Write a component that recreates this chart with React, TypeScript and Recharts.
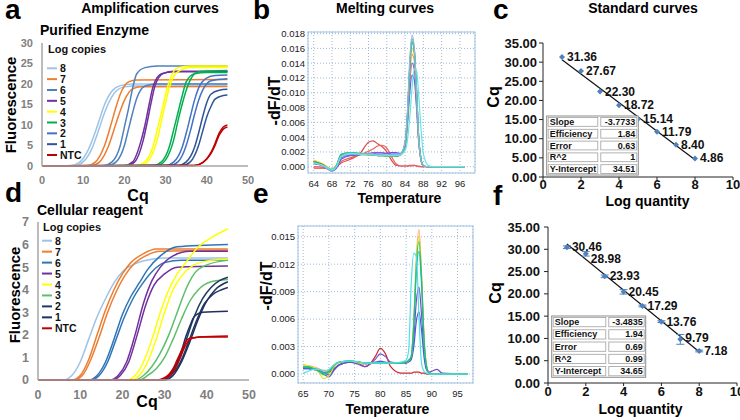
import React from "react";
import {
  ComposedChart,
  CartesianGrid,
  ErrorBar,
  LabelList,
  Line,
  LineChart,
  Scatter,
  XAxis,
  YAxis,
} from "recharts";

const FONT = "Arial, 'Liberation Sans', Helvetica, sans-serif";

// ---------- a / d : amplification curves, [cycle, fluorescence] ----------
const cycleTicks = [0, 10, 20, 30, 40, 50];
const enzymeTicks = [0, 5, 10, 15, 20, 25, 30];
const cellTicks = [0, 1, 2, 3, 4, 5, 6, 7];
const legendLabels = ["8", "7", "6", "5", "4", "3", "2", "1", "NTC"];

const enzymeColors = ["#9dc3e6", "#ed7d31", "#4f81bd", "#7030a0", "#ffff00", "#00b050", "#4472c4", "#2f5597", "#c00000"];
const cellColors = ["#9dc3e6", "#ed7d31", "#2e75b6", "#7030a0", "#ffff00", "#5cbf6a", "#203864", "#1f2f5f", "#c00000"];

type Pt = [number, number];

const enz8a: Pt[] = [[0, 0], [7, 0.1], [9, 0.8], [11, 3.5], [13, 8.5], [14, 11.5], [15, 14.5], [17, 18.3], [19, 19.6], [22, 20], [45, 20]];
const enz8b: Pt[] = [[0, 0], [8, 0.1], [10, 1], [12, 4], [14, 9.5], [15, 12.5], [16, 15], [18, 18.3], [20, 19.3], [23, 19.5], [45, 19.5]];
const enz7a: Pt[] = [[0, 0], [11, 0.1], [13, 1], [15, 4.5], [17, 11], [18, 14.5], [19, 17.5], [21, 20.5], [23, 21], [45, 21.1]];
const enz7b: Pt[] = [[0, 0], [12, 0.1], [14, 1], [16, 4.5], [18, 10.5], [19, 13.5], [20, 16], [22, 18.8], [24, 19.3], [45, 19.4]];
const enz6a: Pt[] = [[0, 0], [15, 0.1], [17, 1], [19, 5], [20, 9.5], [21, 14], [22, 19], [23, 22.5], [25, 24], [28, 24.4], [45, 24.4]];
const enz6b: Pt[] = [[0, 0], [16, 0.1], [18, 1], [20, 5], [21, 9], [22, 13], [23, 16.5], [25, 19.5], [28, 20], [45, 20]];
const enz5a: Pt[] = [[0, 0], [20, 0.1], [22, 1], [24, 6], [25, 10], [26, 15], [27, 19.5], [29, 22.5], [32, 23], [45, 23]];
const enz5b: Pt[] = [[0, 0], [20.5, 0.1], [22.5, 1], [24.5, 6], [25.5, 10.5], [26.5, 15.5], [27.5, 19.8], [29.5, 22.6], [32, 23.1], [45, 23.1]];
const enz4a: Pt[] = [[0, 0], [23, 0.1], [25, 1], [27, 5], [28, 9], [29, 13], [30, 17.5], [31, 21], [33, 24], [36, 24.4], [45, 24.4]];
const enz4b: Pt[] = [[0, 0], [24, 0.1], [26, 1.5], [28, 6.5], [29, 11], [30, 15.5], [31, 19.5], [33, 23], [36, 24], [45, 24]];
const enz3a: Pt[] = [[0, 0], [27, 0.1], [29, 1], [31, 5], [32, 9], [33, 13], [34, 17], [35, 20.5], [37, 22.5], [40, 22.8], [45, 22.8]];
const enz3b: Pt[] = [[0, 0], [28, 0.1], [30, 1.5], [32, 6.5], [33, 11], [34, 15], [35, 18.5], [36, 21], [38, 23], [45, 23.3]];
const enz2a: Pt[] = [[0, 0], [30, 0.1], [32, 1], [34, 4.5], [35, 8], [36, 12], [37, 16], [38, 19], [40, 21.5], [42, 22.1], [45, 22.2]];
const enz2b: Pt[] = [[0, 0], [31, 0.1], [33, 1], [35, 5], [36, 8.5], [37, 12.5], [38, 16], [39, 18.5], [41, 20.8], [45, 21.3]];
const enz1a: Pt[] = [[0, 0], [33, 0.1], [35, 1], [37, 4.5], [38, 8], [39, 12], [40, 15.5], [41, 17.5], [43, 18.5], [45, 18.7]];
const enz1b: Pt[] = [[0, 0], [34, 0.1], [36, 1], [38, 5], [39, 8.5], [40, 12], [41, 14.5], [42, 16.3], [44, 17.2], [45, 17.3]];
const enzNa: Pt[] = [[0, 0], [37, 0.1], [39, 0.8], [41, 3], [42, 5], [43, 7.5], [44, 9], [45, 9.5]];
const enzNb: Pt[] = [[0, 0], [37, 0.1], [39, 0.8], [41, 3.3], [42, 5.5], [43, 8], [44, 9.5], [45, 10]];

const cell8a: Pt[] = [[0, 0], [6, 0], [8, 0.2], [10, 0.8], [12, 1.8], [14, 2.8], [16, 3.6], [18, 4.3], [20, 4.8], [23, 5.15], [27, 5.35], [30, 5.4], [45, 5.4]];
const cell7a: Pt[] = [[0, 0], [8, 0], [10, 0.2], [12, 0.9], [14, 2], [16, 3.1], [18, 4], [20, 4.7], [22, 5.2], [25, 5.6], [28, 5.8], [45, 5.8]];
const cell7b: Pt[] = [[0, 0], [8.5, 0], [10.5, 0.2], [12.5, 0.9], [14.5, 1.9], [16.5, 3], [18.5, 3.9], [20.5, 4.6], [22.5, 5.1], [25.5, 5.5], [29, 5.7], [45, 5.75]];
const cell6a: Pt[] = [[0, 0], [12, 0], [14, 0.2], [16, 0.8], [18, 1.8], [20, 2.9], [22, 3.7], [24, 4.3], [26, 4.9], [29, 5.5], [33, 5.9], [45, 6]];
const cell6b: Pt[] = [[0, 0], [12.5, 0], [14.5, 0.2], [16.5, 0.8], [18.5, 1.8], [20.5, 2.8], [22.5, 3.6], [24.5, 4.2], [27, 4.8], [30, 5.2], [34, 5.3], [45, 5.3]];
const cell5a: Pt[] = [[0, 0], [17, 0], [19, 0.2], [21, 0.8], [23, 2], [25, 3.4], [27, 4.4], [29, 5], [32, 5.5], [36, 5.7], [45, 5.7]];
const cell5b: Pt[] = [[0, 0], [17.5, 0], [19.5, 0.2], [21.5, 0.8], [23.5, 2], [25.5, 3.3], [27.5, 4.2], [30, 4.7], [33, 5], [45, 5.05]];
const cell4a: Pt[] = [[0, 0], [21, 0], [23, 0.2], [25, 0.8], [27, 1.8], [29, 3], [31, 4], [33, 4.7], [35, 5.2], [38, 5.9], [41, 6.3], [45, 6.7]];
const cell4b: Pt[] = [[0, 0], [22, 0], [24, 0.2], [26, 0.8], [28, 1.8], [30, 3], [32, 4], [34, 4.6], [37, 5.1], [41, 5.3], [45, 5.35]];
const cell3a: Pt[] = [[0, 0], [23, 0], [25, 0.2], [27, 0.6], [29, 1.2], [31, 2], [33, 3], [35, 4], [37, 4.7], [40, 5.1], [45, 5.3]];
const cell3b: Pt[] = [[0, 0], [24, 0], [26, 0.2], [28, 0.5], [30, 1], [32, 1.8], [34, 2.7], [36, 3.5], [38, 4], [41, 4.35], [45, 4.45]];
const cell2a: Pt[] = [[0, 0], [29, 0], [31, 0.2], [33, 0.7], [35, 1.7], [37, 2.8], [39, 3.6], [41, 4.1], [43, 4.4], [45, 4.55]];
const cell2b: Pt[] = [[0, 0], [29.5, 0], [31.5, 0.2], [33.5, 0.7], [35.5, 1.6], [37.5, 2.6], [39.5, 3.4], [41.5, 3.8], [43.5, 4], [45, 4.1]];
const cell1a: Pt[] = [[0, 0], [29, 0], [31, 0.2], [33, 0.8], [34, 1.3], [35, 1.9], [36, 2.4], [37, 2.8], [39, 3], [45, 3.05]];
const cell1b: Pt[] = [[0, 0], [30, 0], [32, 0.2], [34, 0.8], [36, 1.7], [38, 2.7], [40, 3.5], [42, 4], [45, 4.35]];
const cellNa: Pt[] = [[0, 0], [28, 0], [30, 0.1], [32, 0.5], [33, 0.9], [34, 1.3], [35, 1.7], [36, 1.85], [38, 1.9], [45, 1.95]];
const cellNb: Pt[] = [[0, 0], [28.5, 0], [30.5, 0.1], [32.5, 0.5], [33.5, 0.9], [34.5, 1.35], [35.5, 1.7], [36.5, 1.85], [39, 1.9], [45, 1.9]];

// group index -> replicate curves
const enzymeCurves: [number, Pt[]][] = [
  [0, enz8a], [0, enz8b], [1, enz7a], [1, enz7b], [2, enz6a], [2, enz6b], [3, enz5a], [3, enz5b],
  [4, enz4a], [4, enz4b], [5, enz3a], [5, enz3b], [6, enz2a], [6, enz2b], [7, enz1a], [7, enz1b],
  [8, enzNa], [8, enzNb],
];
const cellCurves: [number, Pt[]][] = [
  [0, cell8a], [1, cell7a], [1, cell7b], [2, cell6a], [2, cell6b], [3, cell5a], [3, cell5b],
  [4, cell4a], [4, cell4b], [5, cell3a], [5, cell3b], [6, cell2a], [6, cell2b], [7, cell1a], [7, cell1b],
  [8, cellNa], [8, cellNb],
];

// ---------- b : melting curves, purified enzyme ----------
const tempB = [64, 66, 68, 69, 70, 72, 74, 76, 77, 78, 79, 80, 81, 82, 83, 84, 84.5, 85, 85.5, 86, 86.5, 87, 87.5, 88, 89, 90, 97];
const bRedA = [-0.0002, -0.0002, -0.0003, 0, 0.0005, 0.001, 0.0017, 0.0033, 0.0035, 0.0031, 0.0027, 0.002, 0.0009, 0.0002, 0.0001, 0.0001, 0.0001, 0.0002, 0.0002, 0.0002, 0.0001, 0.0001, 0, 0, 0, 0, 0];
const bRedB = [0, -0.0001, -0.0004, 0.0002, 0.0007, 0.0012, 0.0016, 0.0021, 0.0024, 0.0028, 0.0029, 0.0025, 0.0014, 0.0004, 0.0001, 0.0001, 0.0001, 0.0001, 0.0001, 0.0002, 0.0001, 0, 0, 0, 0, 0, 0];
const bBlue = [0.0004, 0.0001, -0.0006, -0.0002, 0.001, 0.0015, 0.0016, 0.0017, 0.0018, 0.0017, 0.0017, 0.0018, 0.0019, 0.0019, 0.0018, 0.0026, 0.0055, 0.0098, 0.0124, 0.0118, 0.008, 0.0032, 0.0008, 0.0001, 0, 0, 0];
const bPurple = [0.0006, 0.0002, -0.0004, 0, 0.0012, 0.0016, 0.0017, 0.0018, 0.0019, 0.0019, 0.0019, 0.0018, 0.0017, 0.0017, 0.0017, 0.0028, 0.006, 0.011, 0.014, 0.0132, 0.0088, 0.0034, 0.0009, 0.0001, 0, 0, 0];
const bOrange = [0.0008, 0.0003, -0.0004, 0.0002, 0.0015, 0.0018, 0.0017, 0.0016, 0.0016, 0.0015, 0.0015, 0.0015, 0.0015, 0.0015, 0.0016, 0.003, 0.0064, 0.012, 0.0152, 0.0145, 0.0095, 0.0035, 0.0009, 0.0001, 0, 0, 0];
const bYellow = [0.0009, 0.0004, -0.0003, 0.0003, 0.0016, 0.0019, 0.0018, 0.0017, 0.0017, 0.0016, 0.0016, 0.0015, 0.0015, 0.0015, 0.0016, 0.0031, 0.0066, 0.0125, 0.016, 0.0152, 0.01, 0.0036, 0.0009, 0.0001, 0, 0, 0];
const bOlive = [0.0007, 0.0003, -0.0005, 0.0001, 0.0014, 0.0018, 0.0017, 0.0016, 0.0016, 0.0015, 0.0015, 0.0014, 0.0014, 0.0014, 0.0016, 0.0032, 0.0068, 0.013, 0.0168, 0.0158, 0.0104, 0.0037, 0.001, 0.0001, 0, 0, 0];
const bGreen = [0.0007, 0.0002, -0.0005, 0.0002, 0.0016, 0.0019, 0.0018, 0.0017, 0.0016, 0.0015, 0.0015, 0.0014, 0.0014, 0.0014, 0.0017, 0.0033, 0.007, 0.0135, 0.0173, 0.016, 0.0106, 0.0038, 0.001, 0.0001, 0, 0, 0];
const bTeal = [0.0006, 0.0002, -0.0004, 0.0002, 0.0017, 0.0019, 0.0018, 0.0017, 0.0017, 0.0016, 0.0016, 0.0015, 0.0015, 0.0015, 0.0016, 0.0032, 0.0068, 0.0132, 0.0169, 0.0157, 0.0104, 0.0037, 0.001, 0.0001, 0, 0, 0];
const bSky = [0.0005, 0.0001, -0.0006, 0, 0.0013, 0.0017, 0.0017, 0.0017, 0.0017, 0.0016, 0.0016, 0.0016, 0.0016, 0.0016, 0.0017, 0.0034, 0.0074, 0.0142, 0.0178, 0.0162, 0.0104, 0.0036, 0.0009, 0.0001, 0, 0, 0];
const bCyan = [0.0005, 0.0002, -0.0004, 0.0001, 0.0014, 0.0018, 0.0017, 0.0016, 0.0016, 0.0015, 0.0015, 0.0015, 0.0015, 0.0015, 0.0016, 0.0022, 0.0035, 0.0065, 0.0105, 0.0132, 0.013, 0.0095, 0.005, 0.0018, 0.0002, 0, 0];

const meltB: [string, number[]][] = [
  ["#e04848", bRedA], ["#e86060", bRedB], ["#4a5fe0", bBlue], ["#9a55d8", bPurple], ["#ee9a30", bOrange],
  ["#e6d640", bYellow], ["#8f7a20", bOlive], ["#3cbf4a", bGreen], ["#2cc0a8", bTeal], ["#8fb4ea", bSky], ["#5fe6ea", bCyan],
];
const rowsB = tempB.map((t, i) => {
  const r: Record<string, number> = { t };
  meltB.forEach(([, v], k) => (r["s" + k] = v[i]));
  return r;
});

// ---------- e : melting curves, cellular reagent ----------
const tempE = [65, 66, 67, 68, 69, 70, 71, 72, 74, 76, 77, 78, 79, 80, 81, 82, 84, 85, 85.5, 86, 86.5, 87, 87.5, 88, 88.5, 89, 89.5, 90, 91, 92, 97];
const eRed = [0.0008, 0.0007, 0.0006, 0.0005, 0.0003, 0.0002, 0.0006, 0.001, 0.0013, 0.0011, 0.0008, 0.0011, 0.0019, 0.0028, 0.0022, 0.0008, 0.0001, 0.0001, 0.0001, 0.0001, 0.0002, 0.0002, 0.0002, 0.0001, 0.0001, 0, 0, 0, 0, 0, 0];
const ePurple = [0.0006, 0.0006, 0.0005, 0.0004, 0.0002, -0.0001, 0.0005, 0.001, 0.0013, 0.001, 0.0008, 0.0011, 0.0016, 0.0022, 0.0019, 0.0013, 0.0012, 0.0012, 0.0014, 0.0018, 0.004, 0.008, 0.0095, 0.0065, 0.0025, 0.0006, 0.0002, 0.0003, 0.0005, 0.0001, 0];
const eBlue = [0.0006, 0.0006, 0.0005, 0.0003, 0, -0.0003, 0.0004, 0.001, 0.0013, 0.0012, 0.0011, 0.0012, 0.0013, 0.0014, 0.0013, 0.0012, 0.0012, 0.0012, 0.0013, 0.0016, 0.003, 0.0058, 0.0068, 0.0048, 0.0018, 0.0004, 0.0001, 0, 0, 0, 0];
const eOrange = [0.001, 0.0009, 0.0008, 0.0006, 0.0003, 0.0004, 0.001, 0.0013, 0.0014, 0.0013, 0.0012, 0.0012, 0.0012, 0.0012, 0.0012, 0.0012, 0.0012, 0.0013, 0.0015, 0.002, 0.006, 0.0128, 0.0158, 0.011, 0.004, 0.0008, 0.0001, 0, 0, 0, 0];
const eYellow = [0.001, 0.0009, 0.0007, 0.0002, -0.0005, -0.0002, 0.0008, 0.0012, 0.0014, 0.0012, 0.0011, 0.0012, 0.0012, 0.0012, 0.0012, 0.0012, 0.0012, 0.0013, 0.0015, 0.002, 0.0058, 0.0122, 0.015, 0.0105, 0.0038, 0.0008, 0.0001, 0, 0, 0, 0];
const eGreen = [0.0008, 0.0008, 0.0006, 0.0003, -0.0001, 0.0002, 0.0009, 0.0013, 0.0014, 0.0013, 0.0012, 0.0012, 0.0012, 0.0012, 0.0012, 0.0012, 0.0012, 0.0013, 0.0015, 0.0019, 0.0056, 0.012, 0.0145, 0.0106, 0.0037, 0.0008, 0.0001, 0, 0, 0, 0];
const eTeal = [0.0007, 0.0007, 0.0006, 0.0004, 0.0001, 0.0003, 0.001, 0.0013, 0.0014, 0.0013, 0.0012, 0.0012, 0.0012, 0.0012, 0.0012, 0.0012, 0.0012, 0.0013, 0.0015, 0.0019, 0.0052, 0.0112, 0.0134, 0.0098, 0.0034, 0.0007, 0.0001, 0, 0, 0, 0];
const eCyan = [0.0001, 0.0003, 0.0005, 0.0005, 0.0004, 0.0005, 0.001, 0.0013, 0.0014, 0.0013, 0.0012, 0.0012, 0.0012, 0.0012, 0.0012, 0.0012, 0.0013, 0.0015, 0.0026, 0.0099, 0.0132, 0.0128, 0.0063, 0.0012, 0.0003, 0.0001, 0, 0, 0, 0, 0];

const meltE: [string, number[]][] = [
  ["#cc2a2a", eRed], ["#7a4ad0", ePurple], ["#4a5ad8", eBlue], ["#ffae6a", eOrange], ["#e0e030", eYellow],
  ["#3ccc5a", eGreen], ["#1cb8a0", eTeal], ["#4ee0e6", eCyan],
];
const rowsE = tempE.map((t, i) => {
  const r: Record<string, number> = { t };
  meltE.forEach(([, v], k) => (r["s" + k] = v[i]));
  return r;
});

// ---------- c / f : standard curves ----------
const logQty = [1, 2, 3, 4, 5, 6, 7, 8];
const cqPurified = [31.36, 27.67, 22.3, 18.72, 15.14, 11.79, 8.4, 4.86];
const trendPurified = [30.6, null, null, null, null, null, null, 4.5];
const cqCellular = [30.46, 28.98, 23.93, 20.45, 17.29, 13.76, 9.79, 7.18];
const errCellular = [0.3, 0.5, 0.3, 0.5, 0.2, 0.2, 1.1, 0.2];
const trendCellular = [31.2, null, null, null, null, null, null, 7.0];
const fitPurified: [string, string][] = [["Slope", "-3.7733"], ["Efficiency", "1.84"], ["Error", "0.63"], ["R^2", "1"], ["Y-Intercept", "34.51"]];
const fitCellular: [string, string][] = [["Slope", "-3.4835"], ["Efficiency", "1.94"], ["Error", "0.69"], ["R^2", "0.99"], ["Y-Intercept", "34.65"]];

const rowsC = logQty.map((x, i) => ({ x, cq: cqPurified[i], trend: trendPurified[i] }));
const rowsF = logQty.map((x, i) => ({ x, cq: cqCellular[i], err: errCellular[i], trend: trendCellular[i] }));

const xy = (pts: Pt[]) => pts.map(([x, y]) => ({ x, y }));

const grayTick = { fill: "#7f7f7f", fontSize: 11, fontWeight: 700, fontFamily: FONT };
const meltTick = { fill: "#222", fontSize: 9.5, fontFamily: FONT };
const stdTick = { fill: "#111", fontSize: 13, fontWeight: 700, fontFamily: FONT };

const Diamond = (p: any) => {
  const { cx, cy } = p;
  return <path d={`M${cx},${cy - 3}L${cx + 3},${cy}L${cx},${cy + 3}L${cx - 3},${cy}Z`} fill="#4f81bd" />;
};

// label nudges (px, down) per point index, as placed in the figure
const makeLabel = (nudge: number[] = []) => (p: any) => {
  const vb = p.viewBox ?? p;
  const cx = vb.x + (vb.width ?? 0) / 2;
  const cy = vb.y + (vb.height ?? 0) / 2 + (nudge[p.index] ?? 0);
  return (
    <text x={cx + 5} y={cy} dominantBaseline="central" fontSize={12} fontWeight={700} fontFamily={FONT} fill="#111">
      {Number(p.value).toFixed(2)}
    </text>
  );
};
const labelC = makeLabel();
const labelF = makeLabel([0, 5, 0, 0, 0, 0, -1, 0]);

function AmpChart({ curves, colors, ticks, max, height, margin, yWidth, xH, tick }: any) {
  return (
    <LineChart width={260} height={height} margin={margin}>
      <XAxis
        type="number"
        dataKey="x"
        domain={[0, 50]}
        ticks={cycleTicks}
        interval={0}
        height={xH}
        tick={tick}
        tickLine={false}
        tickSize={6}
        tickMargin={4}
        axisLine={{ stroke: "#a6a6a6", strokeWidth: 1.5 }}
      />
      <YAxis
        type="number"
        domain={[0, max]}
        ticks={ticks}
        interval={0}
        width={yWidth}
        tick={tick}
        tickLine={false}
        tickSize={5}
        tickMargin={4}
        axisLine={{ stroke: "#a6a6a6", strokeWidth: 1.5 }}
      />
      {curves.map(([g, pts]: [number, Pt[]], i: number) => (
        <Line
          key={i}
          data={xy(pts)}
          dataKey="y"
          type="monotone"
          stroke={colors[g]}
          strokeWidth={1.5}
          dot={false}
          isAnimationActive={false}
        />
      ))}
    </LineChart>
  );
}

function MeltChart({ rows, series, xDomain, xTicks, yDomain, yTicks, margin, yWidth }: any) {
  return (
    <LineChart width={250} height={200} data={rows} margin={margin}>
      <CartesianGrid stroke="#9db9d6" strokeDasharray="1 2" />
      <XAxis
        type="number"
        dataKey="t"
        domain={xDomain}
        ticks={xTicks}
        interval={0}
        allowDataOverflow
        height={27}
        tick={meltTick}
        tickLine={false}
        axisLine={false}
        tickSize={3}
        tickMargin={4}
      />
      <YAxis
        type="number"
        domain={yDomain}
        ticks={yTicks}
        interval={0}
        allowDataOverflow
        width={yWidth}
        tick={meltTick}
        tickLine={false}
        axisLine={false}
        tickSize={1}
        tickMargin={2}
        tickFormatter={(v: number) => v.toFixed(3)}
      />
      {series.map(([color]: [string, number[]], k: number) => (
        <Line
          key={k}
          dataKey={"s" + k}
          type="monotone"
          stroke={color}
          strokeWidth={1.2}
          dot={false}
          isAnimationActive={false}
        />
      ))}
    </LineChart>
  );
}

function StdChart({ rows, height, margin, yWidth, withErr, label, xTickMargin, yTickMargin }: any) {
  return (
    <ComposedChart width={260} height={height} data={rows} margin={margin}>
      <XAxis
        type="number"
        dataKey="x"
        domain={[0, 10]}
        ticks={[0, 2, 4, 6, 8, 10]}
        interval={0}
        height={height === 210 ? 33 : 27}
        tick={stdTick}
        tickSize={3}
        tickMargin={xTickMargin}
        stroke="#222"
      />
      <YAxis
        type="number"
        domain={[0, 35]}
        ticks={[0, 5, 10, 15, 20, 25, 30, 35]}
        interval={0}
        width={yWidth}
        tick={stdTick}
        tickSize={4}
        tickMargin={yTickMargin}
        stroke="#222"
        tickFormatter={(v: number) => v.toFixed(2)}
      />
      <Line dataKey="trend" type="linear" stroke="#111" strokeWidth={1.2} dot={false} connectNulls isAnimationActive={false} />
      <Scatter dataKey="cq" shape={Diamond} isAnimationActive={false}>
        {withErr && <ErrorBar dataKey="err" direction="y" width={4} stroke="#4f81bd" strokeWidth={1} />}
        <LabelList dataKey="cq" content={label} />
      </Scatter>
    </ComposedChart>
  );
}

function FitTable({ x, y, w, h, split, rows }: any) {
  const rh = h / rows.length;
  return (
    <g fontFamily={FONT} fontSize={9} fontWeight={700} fill="#111">
      <rect x={x} y={y} width={w} height={h} fill="#fff" stroke="#8c8c8c" />
      {rows.map(([k, v]: [string, string], i: number) => (
        <g key={k}>
          <rect x={x + 1.5} y={y + i * rh + 1.5} width={split - x - 3} height={rh - 3} fill="none" stroke="#a0a0a0" strokeWidth={0.8} />
          <rect x={split + 1.5} y={y + i * rh + 1.5} width={x + w - split - 3} height={rh - 3} fill="none" stroke="#a0a0a0" strokeWidth={0.8} />
          <text x={x + 3} y={y + i * rh + rh / 2} dominantBaseline="central">{k}</text>
          <text x={x + w - 3} y={y + i * rh + rh / 2} dominantBaseline="central" textAnchor="end">{v}</text>
        </g>
      ))}
    </g>
  );
}

function Legend({ x, titleY, y0, step, colors }: any) {
  return (
    <g fontFamily={FONT} fontWeight={700} fill="#111">
      <text x={x} y={titleY} fontSize={11}>Log copies</text>
      {legendLabels.map((l, i) => (
        <g key={l}>
          <line x1={x - 1} x2={x + 9} y1={y0 + i * step} y2={y0 + i * step} stroke={colors[i]} strokeWidth={2} />
          <text x={x + 12} y={y0 + i * step} dominantBaseline="central" fontSize={10.5}>{l}</text>
        </g>
      ))}
    </g>
  );
}

const abs = (left: number, top: number): React.CSSProperties => ({ position: "absolute", left, top });

export default function App() {
  const letter = { fontFamily: FONT, fontSize: 28, fontWeight: 700, fill: "#000" } as const;
  const title = { fontFamily: FONT, fontSize: 14, fontWeight: 700, fill: "#000" } as const;
  const axisT = { fontFamily: FONT, fontSize: 15, fontWeight: 700, fill: "#000" } as const;
  return (
    <div style={{ position: "absolute", left: 0, top: 0, width: 740, height: 420, background: "#fff", overflow: "hidden" }}>
      <div style={abs(0, 0)}>
        <AmpChart
          curves={enzymeCurves}
          colors={enzymeColors}
          ticks={enzymeTicks}
          max={30}
          height={200}
          margin={{ top: 43, right: 12, left: 0, bottom: 0 }}
          yWidth={42}
          xH={34}
          tick={grayTick}
        />
      </div>
      <div style={abs(0, 210)}>
        <AmpChart
          curves={cellCurves}
          colors={cellColors}
          ticks={cellTicks}
          max={7}
          height={200}
          margin={{ top: 12, right: 11, left: 0, bottom: 0 }}
          yWidth={38}
          xH={30}
          tick={{ ...grayTick, fontSize: 12.5 }}
        />
      </div>
      <div style={abs(240, 0)}>
        <MeltChart
          rows={rowsB}
          series={meltB}
          xDomain={[62.75, 99.3]}
          xTicks={[64, 68, 72, 76, 80, 84, 88, 92, 96]}
          yDomain={[-0.00085, 0.01822]}
          yTicks={[0, 0.002, 0.004, 0.006, 0.008, 0.01, 0.012, 0.014, 0.016, 0.018]}
          margin={{ top: 32, right: 15, left: 0, bottom: 0 }}
          yWidth={68}
        />
      </div>
      <div style={abs(240, 210)}>
        <MeltChart
          rows={rowsE}
          series={meltE}
          xDomain={[64, 98]}
          xTicks={[65, 70, 75, 80, 85, 90, 95]}
          yDomain={[-0.00098, 0.01617]}
          yTicks={[0, 0.003, 0.006, 0.009, 0.012, 0.015]}
          margin={{ top: 16, right: 17, left: 0, bottom: 0 }}
          yWidth={58}
        />
      </div>
      <div style={abs(480, 0)}>
        <StdChart
          rows={rowsC}
          height={210}
          margin={{ top: 43, right: 7, left: 0, bottom: 0 }}
          yWidth={63}
          label={labelC}
          xTickMargin={0}
          yTickMargin={2}
        />
      </div>
      <div style={abs(480, 210)}>
        <StdChart
          rows={rowsF}
          height={200}
          margin={{ top: 17, right: 3, left: 0, bottom: 0 }}
          yWidth={68}
          withErr
          label={labelF}
          xTickMargin={1}
          yTickMargin={4}
        />
      </div>

      <svg width={740} height={420} style={{ position: "absolute", left: 0, top: 0, pointerEvents: "none" }}>
        {/* melt plot frames */}
        <rect x={308} y={32} width={167} height={141} fill="none" stroke="#a3c3e3" />
        <rect x={298} y={226} width={175} height={157} fill="none" stroke="#a3c3e3" />

        <text x={5} y={19} {...letter}>a</text>
        <text x={253} y={19} {...letter}>b</text>
        <text x={493} y={19} {...letter}>c</text>
        <text x={5} y={201.5} {...letter}>d</text>
        <text x={253} y={203} {...letter}>e</text>
        <text x={493} y={205} {...letter}>f</text>

        <text x={150} y={13} textAnchor="middle" {...title}>Amplification curves</text>
        <text x={385} y={13} textAnchor="middle" {...title}>Melting curves</text>
        <text x={643} y={13} textAnchor="middle" {...title}>Standard curves</text>
        <text x={40} y={35} {...title}>Purified Enzyme</text>
        <text x={37} y={215} {...title}>Cellular reagent</text>

        <text transform="translate(16,105) rotate(-90)" textAnchor="middle" {...axisT}>Fluorescence</text>
        <text transform="translate(20,295) rotate(-90)" textAnchor="middle" {...axisT}>Fluorescence</text>
        <text x={138} y={200.5} textAnchor="middle" {...axisT} fontSize={16}>Cq</text>
        <text x={147} y={407} textAnchor="middle" {...axisT} fontSize={16}>Cq</text>
        <text transform="translate(280,101) rotate(-90)" textAnchor="middle" {...axisT} fontSize={16}>-dF/dT</text>
        <text transform="translate(272,286) rotate(-90)" textAnchor="middle" {...axisT} fontSize={16}>-dF/dT</text>
        <text x={399.5} y={203} textAnchor="middle" {...axisT} fontSize={14}>Temperature</text>
        <text x={387.5} y={414} textAnchor="middle" {...axisT} fontSize={14}>Temperature</text>
        <text transform="translate(499,97) rotate(-90)" textAnchor="middle" {...axisT} fontSize={16}>Cq</text>
        <text transform="translate(501,293) rotate(-90)" textAnchor="middle" {...axisT} fontSize={16}>Cq</text>
        <text x={647.5} y={206} textAnchor="middle" {...axisT} fontSize={14}>Log quantity</text>
        <text x={640.5} y={414} textAnchor="middle" {...axisT} fontSize={14}>Log quantity</text>

        <Legend x={48} titleY={53} y0={68.3} step={10.84} colors={enzymeColors} />
        <Legend x={43} titleY={231} y0={240.7} step={10.95} colors={cellColors} />

        <FitTable x={546.7} y={116} w={91.6} h={59} split={599.3} rows={fitPurified} />
        <FitTable x={551.7} y={316} w={94} h={61.3} split={607.3} rows={fitCellular} />
      </svg>
    </div>
  );
}
